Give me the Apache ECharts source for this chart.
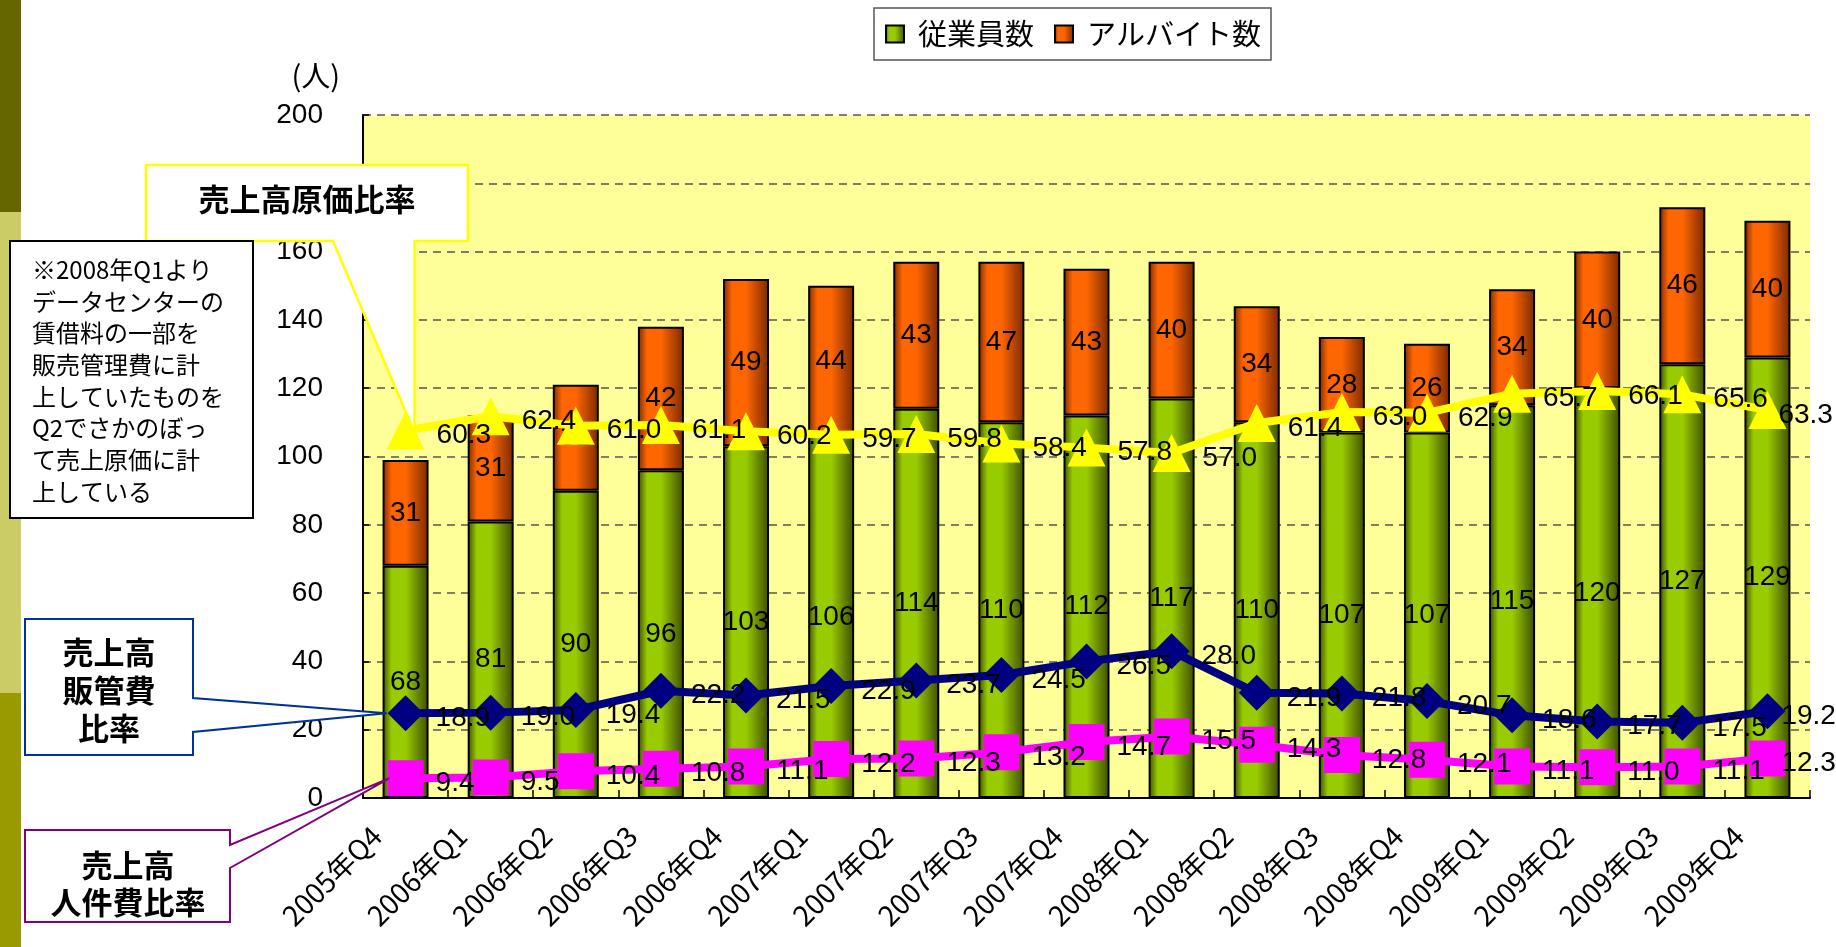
<!DOCTYPE html>
<html><head><meta charset="utf-8">
<script src="https://cdn.jsdelivr.net/npm/echarts@6/dist/echarts.min.js"></script>
<style>html,body{margin:0;padding:0;background:#fff}#c{width:1836px;height:947px}</style>
</head><body><div id="c"></div>
<script>
const categories = ['2005年Q4','2006年Q1','2006年Q2','2006年Q3','2006年Q4','2007年Q1','2007年Q2','2007年Q3','2007年Q4','2008年Q1','2008年Q2','2008年Q3','2008年Q4','2009年Q1','2009年Q2','2009年Q3','2009年Q4'];
const employees = [68,81,90,96,103,106,114,110,112,117,110,107,107,115,120,127,129];
const partTimers = [31,31,31,42,49,44,43,47,43,40,34,28,26,34,40,46,40];
const costRatio = [60.3,62.4,61.0,61.1,60.2,59.7,59.8,58.4,57.8,57.0,61.4,63.0,62.9,65.7,66.1,65.6,63.3];
const sgaRatio = [18.9,19.0,19.4,22.2,21.5,22.9,23.7,24.5,26.5,28.0,21.9,21.8,20.7,18.6,17.7,17.5,19.2];
const personnelRatio = [9.4,9.5,10.4,10.8,11.1,12.2,12.3,13.2,14.7,15.5,14.3,12.8,12.1,11.1,11.0,11.1,12.3];
const yTicks = {min:0, max:200, interval:20};

const NUM_FONT = '"Liberation Sans", Arial, sans-serif';
const JP_FONT = '"Noto Sans CJK JP", sans-serif';

function cyl(dark, bright){
  return new echarts.graphic.LinearGradient(0,0,1,0,[
    {offset:0,color:dark},{offset:0.2,color:bright},{offset:0.5,color:bright},{offset:1,color:dark}]);
}

const chart = echarts.init(document.getElementById('c'), null, {renderer:'canvas'});

function lineSeries(name, values, color, symbol, size, lastShift){
  const last = values.length - 1;
  return {
    name, type:'line', yAxisIndex:1, z:3,
    data: values.map((v,i)=> i===last ? {value:v, label:{offset:[lastShift,5]}} : v),
    symbol, symbolSize:size,
    itemStyle:{color},
    lineStyle:{color, width:8},
    label:{show:true, position:'right', distance:12, offset:[0,5],
      fontSize:28, fontFamily:NUM_FONT, color:'#000',
      formatter:p=>Number(p.value).toFixed(1)}
  };
}

chart.setOption({
  animation:false,
  backgroundColor:'#fff',
  legend:{
    data:['従業員数','アルバイト数'],
    left:874, top:8,
    orient:'horizontal',
    borderColor:'#555', borderWidth:1.5,
    padding:[10,10,10,11],
    itemWidth:18, itemHeight:17, itemGap:20,
    icon:'rect',
    textStyle:{fontSize:29, fontFamily:JP_FONT, color:'#000', padding:[0,0,0,9], lineHeight:32}
  },
  grid:{left:363, right:26, top:115, bottom:149, show:true, backgroundColor:'#FFFF99', borderWidth:0},
  xAxis:{
    type:'category', data:categories,
    axisLine:{show:true, lineStyle:{color:'#000', width:2}},
    axisTick:{show:true, inside:true, length:8, lineStyle:{color:'#000', width:1.5}},
    axisLabel:{rotate:45, interval:0, fontSize:28, fontFamily:JP_FONT, color:'#000', margin:4, padding:[0,41,0,0]},
    splitLine:{show:false}
  },
  yAxis:[{
    type:'value', min:yTicks.min, max:yTicks.max, interval:yTicks.interval,
    name:'(人)', nameLocation:'end', nameGap:39,
    nameTextStyle:{fontSize:29, fontFamily:JP_FONT, color:'#000', align:'right', verticalAlign:'middle', padding:[0,23,0,0]},
    axisLine:{show:true, lineStyle:{color:'#000', width:2}},
    axisTick:{show:true, inside:true, length:6, lineStyle:{color:'#000', width:1.5}},
    axisLabel:{fontSize:28, fontFamily:NUM_FONT, color:'#000', margin:40},
    splitLine:{show:true, lineStyle:{type:[8,6], color:'#555', width:1.5}}
  },{
    type:'value', min:6.5, max:106.5, show:false, splitLine:{show:false}
  }],
  series:[
    {name:'従業員数', type:'bar', stack:'total', data:employees, barWidth:46, z:2,
     itemStyle:{color:cyl('#3d4d00','#99cc00'), borderColor:'#000', borderWidth:2},
     label:{show:true, position:'inside', fontSize:28, fontFamily:NUM_FONT, color:'#000'}},
    {name:'アルバイト数', type:'bar', stack:'total', data:partTimers, barWidth:46, z:2,
     itemStyle:{color:cyl('#7a2900','#ff6600'), borderColor:'#000', borderWidth:2},
     label:{show:true, position:'inside', fontSize:28, fontFamily:NUM_FONT, color:'#000'}},
    lineSeries('売上高原価比率', costRatio, '#FFFF00', 'triangle', 38, -20),
    lineSeries('売上高販管費比率', sgaRatio, '#000080', 'diamond', 36, -16),
    lineSeries('売上高人件費比率', personnelRatio, '#FF00FF', 'rect', 36, -16)
  ]
});

const pC = chart.convertToPixel({seriesIndex:2}, [0, costRatio[0]]);
const pS = chart.convertToPixel({seriesIndex:3}, [0, sgaRatio[0]]);
const pP = chart.convertToPixel({seriesIndex:4}, [0, personnelRatio[0]]);

const tC = [pC[0]+9, pC[1]+2];
const tS = [pS[0]-19, pS[1]];
const tP = [pP[0]-16, pP[1]];

function txt(text, x, y, font, align, valign, lh){
  return {type:'text', z:101, style:{text, x, y, font, fill:'#000',
    textAlign:align, textVerticalAlign:valign, align:align, verticalAlign:valign, lineHeight:lh}};
}

chart.setOption({graphic:[
  {type:'rect', z:100, shape:{x:0,y:0,width:21,height:212}, style:{fill:'#666600'}},
  {type:'rect', z:100, shape:{x:0,y:212,width:21,height:481}, style:{fill:'#CCCC66'}},
  {type:'rect', z:100, shape:{x:0,y:693,width:21,height:254}, style:{fill:'#999900'}},
  {type:'polygon', z:100, shape:{points:[[146,165],[468,165],[468,241],[tC[0],241],tC,[333,241],[146,241]]},
   style:{fill:'#fff', stroke:'#FFFF00', lineWidth:2.5}},
  txt('売上高原価比率', 307, 199, 'bold 31px "Noto Sans CJK JP"', 'center', 'middle'),
  {type:'rect', z:100, shape:{x:10,y:241,width:243,height:277}, style:{fill:'#fff', stroke:'#000', lineWidth:2}},
  txt('※2008年Q1より\nデータセンターの\n賃借料の一部を\n販売管理費に計\n上していたものを\nQ2でさかのぼっ\nて売上原価に計\n上している', 32, 254, '24px "Noto Sans CJK JP"', 'left', 'top', 31.7),
  {type:'polygon', z:100, shape:{points:[[25,619],[193,619],[193,698],tS,[193,732],[193,755],[25,755]]},
   style:{fill:'#fff', stroke:'#003399', lineWidth:2}},
  txt('売上高\n販管費\n比率', 109, 690, 'bold 31px "Noto Sans CJK JP"', 'center', 'middle', 38),
  {type:'polygon', z:100, shape:{points:[[25,830],[230,830],[230,845],tP,[230,868],[230,922],[25,922]]},
   style:{fill:'#fff', stroke:'#800080', lineWidth:2}},
  txt('売上高\n人件費比率', 128, 883.5, 'bold 31px "Noto Sans CJK JP"', 'center', 'middle', 37)
]});
</script></body></html>
